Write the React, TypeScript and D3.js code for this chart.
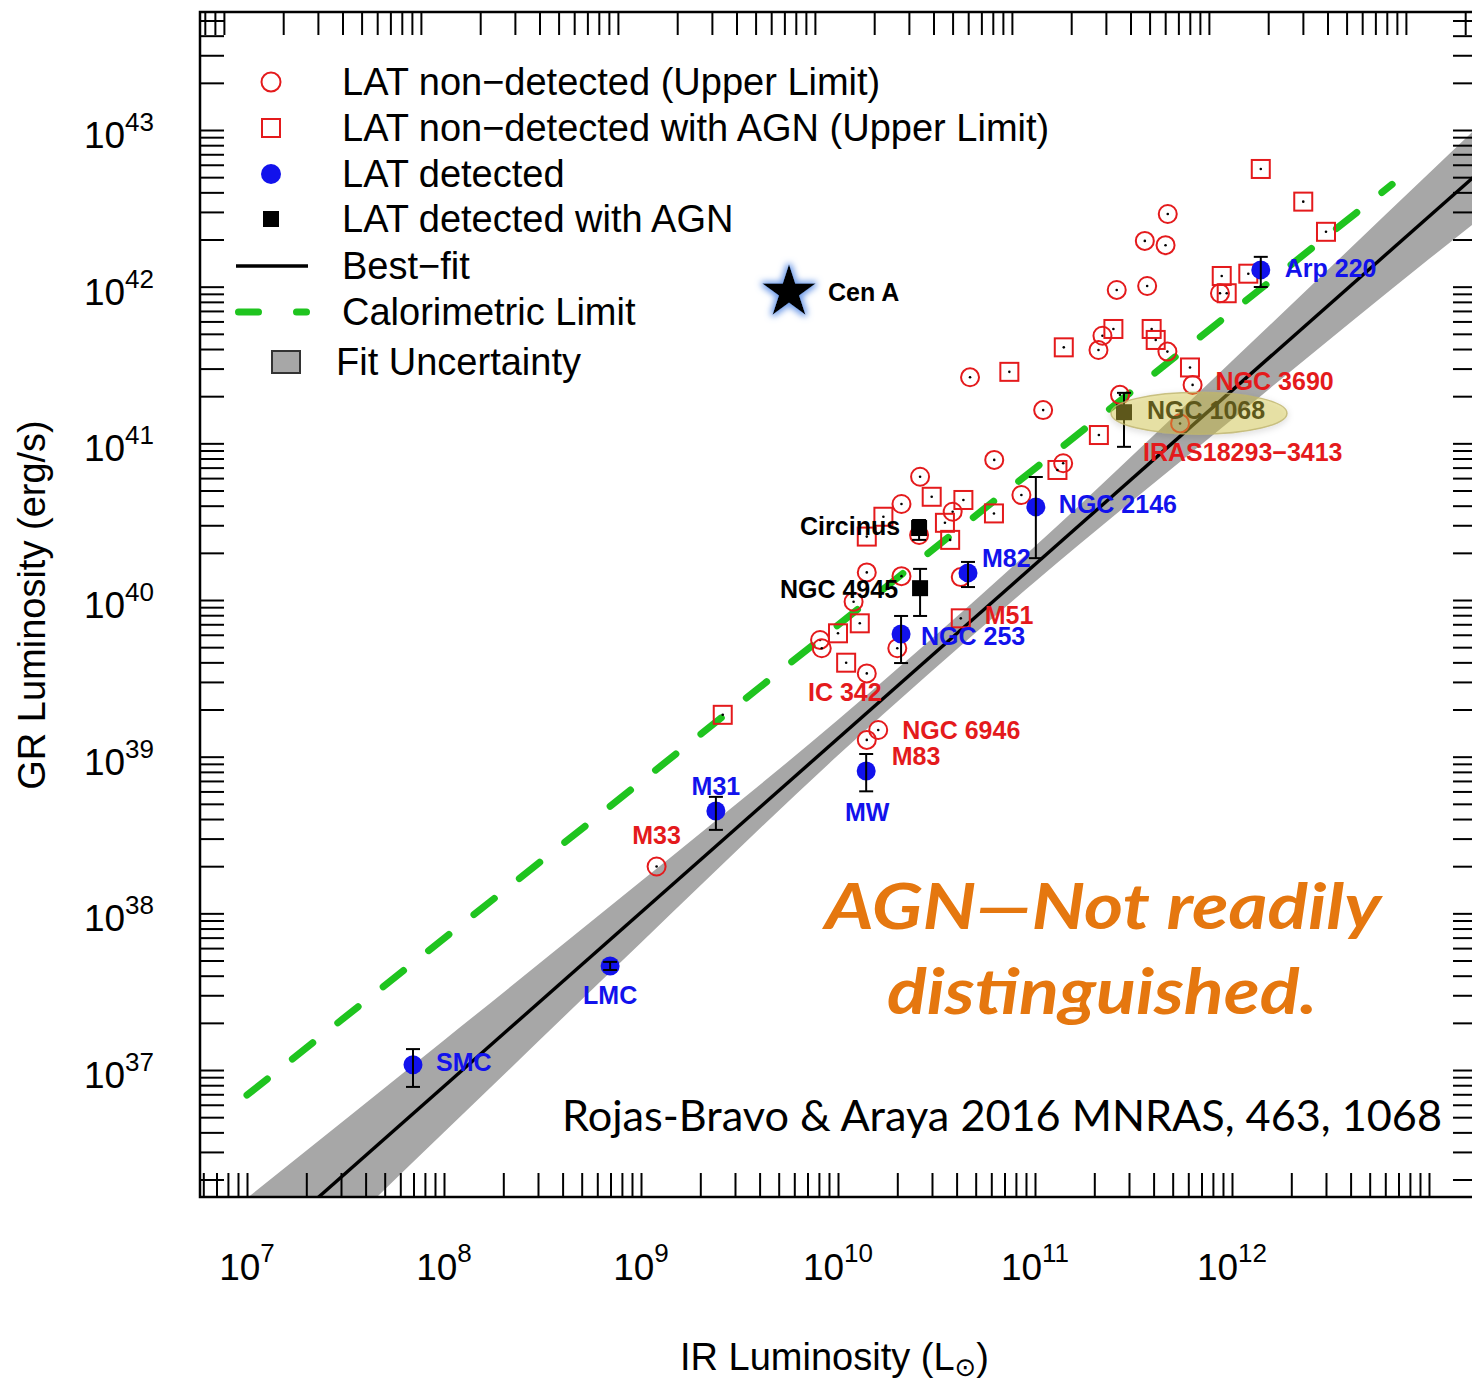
import React, { useEffect, useRef } from 'react';
import * as d3 from 'd3';

// LAT non-detected galaxies, upper limits: [L_IR (L_sun), L_GR (erg/s)]
const upperLimits: [number, number][] = [
  [4.72e11, 2.91e42], [3.61e11, 1.96e42], [4.6e11, 1.84e42], [2.6e11, 9.53e41],
  [3.71e11, 1.01e42], [8.69e11, 9.08e41], [2.2e11, 4.86e41], [2.1e11, 3.94e41],
  [4.7e11, 3.85e41], [6.31e11, 2.36e41], [2.7e11, 2.04e41], [1.1e11, 1.63e41],
  [5.45e11, 1.34e41], [1.39e11, 7.46e40], [8.53e10, 4.68e40], [4.68e10, 2.64e41],
  [6.21e10, 7.84e40], [2.61e10, 6.12e40], [2.1e10, 4.1e40], [3.82e10, 3.66e40],
  [2.58e10, 2.6e40], [1.4e10, 1.5e40], [2.1e10, 1.42e40], [4.2e10, 1.4e40],
  [1.2e10, 9.75e39], [8.11e9, 5.56e39], [8.27e9, 4.92e39], [2.0e10, 4.92e39],
  [1.4e10, 3.4e39], [1.6e10, 1.48e39], [1.4e10, 1.28e39], [1.2e9, 1.99e38],
];

// LAT non-detected galaxies hosting an AGN, upper limits
const upperLimitsAGN: [number, number][] = [
  [1.4e12, 5.64e42], [2.3e12, 3.49e42], [3.0e12, 2.24e42], [8.87e11, 1.17e42],
  [1.21e12, 1.21e42], [9.4e11, 9.08e41], [2.5e11, 5.37e41], [3.91e11, 5.37e41],
  [4.1e11, 4.57e41], [1.4e11, 4.1e41], [7.41e10, 2.86e41], [6.12e11, 3.05e41],
  [2.11e11, 1.13e41], [1.3e11, 6.76e40], [2.99e10, 4.56e40], [4.33e10, 4.35e40],
  [1.7e10, 3.4e40], [6.19e10, 3.57e40], [3.49e10, 3.11e40], [1.4e10, 2.54e40],
  [3.71e10, 2.42e40], [1.29e10, 7.1e39], [1.0e10, 6.13e39], [4.2e10, 7.64e39],
  [1.1e10, 3.98e39], [2.6e9, 1.85e39],
];

// names attached to some upper limits
const limitLabels = [
  { name: 'NGC 3690', kind: 'circle', index: 9 },
  { name: 'IRAS18293\u22123413', kind: 'circle', index: 12 },
  { name: 'IC 342', kind: 'circle', index: 28 },
  { name: 'NGC 6946', kind: 'circle', index: 29 },
  { name: 'M83', kind: 'circle', index: 30 },
  { name: 'M33', kind: 'circle', index: 31 },
  { name: 'M51', kind: 'square', index: 23 },
];

// LAT detected: L_IR, L_GR and the error bar range
const detected = [
  { name: 'Arp 220', ir: 1.4e12, gr: 1.28e42, lo: 9.95e41, hi: 1.55e42 },
  { name: 'NGC 2146', ir: 1.01e11, gr: 3.93e40, lo: 1.85e40, hi: 6.1e40 },
  { name: 'M82', ir: 4.57e10, gr: 1.49e40, lo: 1.21e40, hi: 1.75e40 },
  { name: 'NGC 253', ir: 2.09e10, gr: 6.07e39, lo: 3.96e39, hi: 7.91e39 },
  { name: 'MW', ir: 1.39e10, gr: 8.11e38, lo: 6.01e38, hi: 1.04e39 },
  { name: 'M31', ir: 2.4e9, gr: 4.5e38, lo: 3.41e38, hi: 5.54e38 },
  { name: 'LMC', ir: 6.97e8, gr: 4.61e37, lo: 4.35e37, hi: 4.9e37 },
  { name: 'SMC', ir: 6.96e7, gr: 1.08e37, lo: 7.8e36, hi: 1.36e37 },
];

// LAT detected with AGN
const detectedAGN = [
  { name: 'NGC 1068', ir: 2.83e11, gr: 1.58e41, lo: 9.5e40, hi: 2.1e41 },
  { name: 'Circinus', ir: 2.58e10, gr: 2.88e40, lo: 2.42e40, hi: 3.24e40 },
  { name: 'NGC 4945', ir: 2.61e10, gr: 1.19e40, lo: 7.91e39, hi: 1.58e40 },
];

const cenA: [number, number] = [5.64e9, 9.5e41];

// lines: [L_IR, L_GR]
const bestFit: [number, number][] = [[1e7, 6.1e35], [3e13, 9.5e42]];
const calorimetric: [number, number][] = [[1e7, 6.92e36], [6.5e12, 4.5e42]];
// fit uncertainty: [L_IR, lower, upper]
const fitBand: [number, number, number][] = [
  [1e7, 2.45e35, 1.52e36], [1e8, 4.0e36, 1.55e37], [1e9, 6.5e37, 1.6e38],
  [1e10, 1.02e39, 1.72e39], [1e11, 1.31e40, 2.2e40], [1e12, 1.42e41, 3.35e41],
  [1e13, 1.5e42, 5.3e42], [3.16e13, 4.7e42, 2.1e43],
];

const xExponents = [7, 8, 9, 10, 11, 12];
const yExponents = [37, 38, 39, 40, 41, 42, 43];

const legendLabels = [
  'LAT non\u2212detected (Upper Limit)',
  'LAT non\u2212detected with AGN (Upper Limit)',
  'LAT detected',
  'LAT detected with AGN',
  'Best\u2212fit',
  'Calorimetric Limit',
  'Fit Uncertainty',
];

// label placement relative to the marker (px)
const labelLayout: Record<string, { dx: number; dy: number; anchor: string }> = {
  'Arp 220': { dx: 24, dy: -2, anchor: 'start' },
  'NGC 2146': { dx: 23, dy: -3, anchor: 'start' },
  M82: { dx: 14, dy: -15, anchor: 'start' },
  'NGC 253': { dx: 20, dy: 2, anchor: 'start' },
  MW: { dx: 1, dy: 41, anchor: 'middle' },
  M31: { dx: 0, dy: -25, anchor: 'middle' },
  LMC: { dx: 0, dy: 29, anchor: 'middle' },
  SMC: { dx: 23, dy: -3, anchor: 'start' },
  'NGC 1068': { dx: 23, dy: -2, anchor: 'start' },
  Circinus: { dx: -19, dy: -2, anchor: 'end' },
  'NGC 4945': { dx: -22, dy: 1, anchor: 'end' },
  'NGC 3690': { dx: 23, dy: -4, anchor: 'start' },
  'IRAS18293\u22123413': { dx: -37, dy: 29, anchor: 'start' },
  'IC 342': { dx: -22, dy: 19, anchor: 'middle' },
  'NGC 6946': { dx: 24, dy: 0, anchor: 'start' },
  M83: { dx: 25, dy: 16, anchor: 'start' },
  M33: { dx: 0, dy: -32, anchor: 'middle' },
  M51: { dx: 24, dy: -3, anchor: 'start' },
};

const FONT = '"Liberation Sans", Arial, Helvetica, sans-serif';
const RED = '#e41a1c';
const BLUE = '#1212ec';
const GREEN = '#1fc41f';
const ORANGE = '#e5770f';

function minorTicks(domain: number[]) {
  const [a, b] = domain;
  const out: number[] = [];
  for (let e = Math.floor(Math.log10(a)); e <= Math.ceil(Math.log10(b)); e++) {
    for (let k = 1; k <= 9; k++) {
      const v = k * 10 ** e;
      if (v >= a && v <= b) out.push(v);
    }
  }
  return out;
}

export default function App() {
  const svgRef = useRef<SVGSVGElement>(null);

  useEffect(() => {
    if (!svgRef.current) return;
    const svg = d3.select(svgRef.current);
    svg.selectAll('*').remove();

    const left = 200, right = 1477, top = 12, bottom = 1197;
    const x = d3.scaleLog().domain([10 ** 6.7614, 10 ** 13.2437]).range([left, right]);
    const y = d3.scaleLog().domain([10 ** 36.1895, 10 ** 43.7532]).range([bottom, top]);
    // the top axis is shifted relative to the bottom one
    const xTop = d3.scaleLog().domain(x.domain().map((v) => v * 1.31)).range([left, right]);

    const defs = svg.append('defs');
    defs.append('clipPath').attr('id', 'plot-clip')
      .append('rect').attr('x', left).attr('y', top)
      .attr('width', right - left).attr('height', bottom - top);

    const glow = defs.append('filter').attr('id', 'star-glow')
      .attr('x', '-50%').attr('y', '-50%').attr('width', '200%').attr('height', '200%');
    glow.append('feMorphology').attr('in', 'SourceAlpha').attr('operator', 'dilate').attr('radius', 2).attr('result', 'd');
    glow.append('feGaussianBlur').attr('in', 'd').attr('stdDeviation', 3).attr('result', 'b');
    glow.append('feFlood').attr('flood-color', '#6f9be8');
    glow.append('feComposite').attr('in2', 'b').attr('operator', 'in').attr('result', 'g');
    const merge = glow.append('feMerge');
    merge.append('feMergeNode').attr('in', 'g');
    merge.append('feMergeNode').attr('in', 'SourceGraphic');

    const shadow = defs.append('filter').attr('id', 'ell-shadow')
      .attr('x', '-20%').attr('y', '-50%').attr('width', '140%').attr('height', '200%');
    shadow.append('feDropShadow').attr('dx', 0).attr('dy', 2).attr('stdDeviation', 3)
      .attr('flood-color', '#000').attr('flood-opacity', 0.25);

    // band and lines
    const plot = svg.append('g').attr('clip-path', 'url(#plot-clip)');
    plot.append('path').datum(fitBand)
      .attr('d', d3.area<[number, number, number]>()
        .x((d) => x(d[0])).y0((d) => y(d[1])).y1((d) => y(d[2]))
        .curve(d3.curveMonotoneX))
      .attr('fill', '#a7a7a7');

    const line = d3.line<[number, number]>().x((d) => x(d[0])).y((d) => y(d[1]));
    plot.append('path').datum(bestFit).attr('d', line)
      .attr('fill', 'none').attr('stroke', '#000').attr('stroke-width', 3.4);
    plot.append('path').datum(calorimetric).attr('d', line)
      .attr('fill', 'none').attr('stroke', GREEN).attr('stroke-width', 7)
      .attr('stroke-linecap', 'round').attr('stroke-dasharray', '26 32');

    // axes: minor ticks only, all the same length
    const tickStyle = (g: d3.Selection<SVGGElement, unknown, null, undefined>) => {
      g.select('.domain').remove();
      g.selectAll('.tick line').attr('stroke', '#000').attr('stroke-width', 2);
    };
    svg.append('g').attr('transform', `translate(0,${bottom})`)
      .call(d3.axisBottom(x).tickValues(minorTicks(x.domain())).tickSize(-24).tickFormat(() => ''))
      .call(tickStyle);
    svg.append('g').attr('transform', `translate(0,${top})`)
      .call(d3.axisTop(xTop).tickValues(minorTicks(xTop.domain())).tickSize(-23).tickFormat(() => ''))
      .call(tickStyle);
    svg.append('g').attr('transform', `translate(${left},0)`)
      .call(d3.axisLeft(y).tickValues(minorTicks(y.domain())).tickSize(-24).tickFormat(() => ''))
      .call(tickStyle);
    svg.append('g').attr('transform', `translate(${right},0)`)
      .call(d3.axisRight(y).tickValues(minorTicks(y.domain())).tickSize(-24).tickFormat(() => ''))
      .call(tickStyle);

    svg.append('rect').attr('x', left).attr('y', top)
      .attr('width', right - left).attr('height', bottom - top)
      .attr('fill', 'none').attr('stroke', '#000').attr('stroke-width', 2.5);

    // tick labels
    yExponents.forEach((e) => {
      const t = svg.append('text').attr('x', 154).attr('y', y(10 ** e) + 18)
        .attr('text-anchor', 'end').attr('font-family', FONT).attr('font-size', 37).attr('fill', '#000');
      t.append('tspan').text('10');
      t.append('tspan').attr('dy', -17).attr('font-size', 26).text(String(e));
    });
    xExponents.forEach((e) => {
      const t = svg.append('text').attr('x', x(10 ** e)).attr('y', 1280)
        .attr('text-anchor', 'middle').attr('font-family', FONT).attr('font-size', 37).attr('fill', '#000');
      t.append('tspan').text('10');
      t.append('tspan').attr('dy', -18).attr('font-size', 26).text(String(e));
    });

    // axis titles
    svg.append('text').attr('transform', 'translate(45,605) rotate(-90)')
      .attr('text-anchor', 'middle').attr('font-family', FONT).attr('font-size', 38).attr('fill', '#000')
      .text('GR Luminosity (erg/s)');
    const xt = svg.append('text').attr('x', 680).attr('y', 1370)
      .attr('font-family', FONT).attr('font-size', 38).attr('fill', '#000');
    xt.append('tspan').text('IR Luminosity (L');
    xt.append('tspan').attr('dy', 6).attr('font-size', 26).attr('font-family', '"DejaVu Sans", sans-serif').text('\u2299');
    xt.append('tspan').attr('dy', -6).text(')');

    // markers
    const marks = svg.append('g');
    upperLimits.forEach(([ir, gr]) => {
      marks.append('circle').attr('cx', x(ir)).attr('cy', y(gr)).attr('r', 9)
        .attr('fill', 'none').attr('stroke', RED).attr('stroke-width', 2);
      marks.append('circle').attr('cx', x(ir)).attr('cy', y(gr)).attr('r', 1.3).attr('fill', '#000');
    });
    upperLimitsAGN.forEach(([ir, gr]) => {
      marks.append('rect').attr('x', x(ir) - 9).attr('y', y(gr) - 9).attr('width', 18).attr('height', 18)
        .attr('fill', 'none').attr('stroke', RED).attr('stroke-width', 2);
      marks.append('circle').attr('cx', x(ir)).attr('cy', y(gr)).attr('r', 1.3).attr('fill', '#000');
    });

    const errorBar = (d: { ir: number; lo: number; hi: number }) => {
      const cx = x(d.ir);
      const g = marks.append('g').attr('stroke', '#000').attr('stroke-width', 2);
      g.append('line').attr('x1', cx).attr('x2', cx).attr('y1', y(d.lo)).attr('y2', y(d.hi));
      g.append('line').attr('x1', cx - 7).attr('x2', cx + 7).attr('y1', y(d.lo)).attr('y2', y(d.lo));
      g.append('line').attr('x1', cx - 7).attr('x2', cx + 7).attr('y1', y(d.hi)).attr('y2', y(d.hi));
    };
    detected.forEach((d) => {
      marks.append('circle').attr('cx', x(d.ir)).attr('cy', y(d.gr)).attr('r', 9.5).attr('fill', BLUE);
      errorBar(d);
    });
    detectedAGN.forEach((d) => {
      marks.append('rect').attr('x', x(d.ir) - 8).attr('y', y(d.gr) - 8).attr('width', 16).attr('height', 16).attr('fill', '#000');
      errorBar(d);
    });

    // name labels
    const label = (name: string, px: number, py: number, color: string) => {
      const l = labelLayout[name];
      svg.append('text').attr('x', px + l.dx).attr('y', py + l.dy + 9)
        .attr('text-anchor', l.anchor).attr('font-family', FONT).attr('font-weight', 700)
        .attr('font-size', 25).attr('fill', color).text(name);
    };
    detected.forEach((d) => label(d.name, x(d.ir), y(d.gr), BLUE));
    detectedAGN.forEach((d) => label(d.name, x(d.ir), y(d.gr), '#000'));
    limitLabels.forEach((d) => {
      const p = d.kind === 'circle' ? upperLimits[d.index] : upperLimitsAGN[d.index];
      label(d.name, x(p[0]), y(p[1]), RED);
    });

    // highlight over NGC 1068
    const n1068 = detectedAGN[0];
    svg.append('ellipse').attr('cx', x(n1068.ir) + 75).attr('cy', y(n1068.gr) + 1)
      .attr('rx', 88).attr('ry', 21)
      .attr('fill', 'rgba(215,200,60,0.4)').attr('stroke', 'rgba(190,180,110,0.8)').attr('stroke-width', 1.5)
      .attr('filter', 'url(#ell-shadow)');

    // Cen A
    svg.append('path').attr('d', d3.symbol().type(d3.symbolStar).size(880)())
      .attr('transform', `translate(${x(cenA[0])},${y(cenA[1]) + 2})`)
      .attr('fill', '#000').attr('filter', 'url(#star-glow)');
    svg.append('text').attr('x', x(cenA[0]) + 39).attr('y', y(cenA[1]) + 11)
      .attr('font-family', FONT).attr('font-weight', 700).attr('font-size', 25).attr('fill', '#000')
      .text('Cen A');

    // legend
    const rows = [82, 128, 174, 219, 266, 312, 362];
    const lg = svg.append('g');
    lg.append('circle').attr('cx', 271).attr('cy', rows[0]).attr('r', 9.5)
      .attr('fill', 'none').attr('stroke', RED).attr('stroke-width', 2);
    lg.append('rect').attr('x', 262).attr('y', rows[1] - 9).attr('width', 18).attr('height', 18)
      .attr('fill', 'none').attr('stroke', RED).attr('stroke-width', 2);
    lg.append('circle').attr('cx', 271).attr('cy', rows[2]).attr('r', 10).attr('fill', BLUE);
    lg.append('rect').attr('x', 263).attr('y', rows[3] - 8).attr('width', 16).attr('height', 16).attr('fill', '#000');
    lg.append('line').attr('x1', 236).attr('x2', 308).attr('y1', rows[4]).attr('y2', rows[4])
      .attr('stroke', '#000').attr('stroke-width', 3.5);
    lg.append('line').attr('x1', 238.5).attr('x2', 306.5).attr('y1', rows[5]).attr('y2', rows[5])
      .attr('stroke', GREEN).attr('stroke-width', 7).attr('stroke-linecap', 'round').attr('stroke-dasharray', '20 38');
    lg.append('rect').attr('x', 272).attr('y', rows[6] - 11).attr('width', 28).attr('height', 22)
      .attr('fill', '#a7a7a7').attr('stroke', '#333').attr('stroke-width', 2);
    legendLabels.forEach((t, i) => {
      lg.append('text').attr('x', i === 6 ? 336 : 342).attr('y', rows[i] + 13)
        .attr('font-family', FONT).attr('font-size', 38).attr('fill', '#000').text(t);
    });

    // annotations
    const note = (txt: string, px: number, py: number, len: number) =>
      svg.append('text').attr('x', px).attr('y', py)
        .attr('font-family', 'Lato, "Open Sans", sans-serif').attr('font-weight', 700)
        .attr('font-style', 'italic').attr('font-size', 64).attr('fill', ORANGE)
        .attr('textLength', len).attr('lengthAdjust', 'spacingAndGlyphs').text(txt);
    note('AGN\u2014Not readily', 825, 929, 556);
    note('distinguished.', 887, 1014, 430);

    svg.append('text').attr('x', 562).attr('y', 1131)
      .attr('font-family', 'Lato, "Open Sans", sans-serif').attr('font-size', 43).attr('fill', '#000')
      .attr('textLength', 880).attr('lengthAdjust', 'spacingAndGlyphs')
      .text('Rojas-Bravo & Araya 2016 MNRAS, 463, 1068');
  }, []);

  return (
    <svg
      ref={svgRef}
      width={1472}
      height={1383}
      style={{ position: 'absolute', left: 0, top: 0, background: '#fff' }}
    />
  );
}
